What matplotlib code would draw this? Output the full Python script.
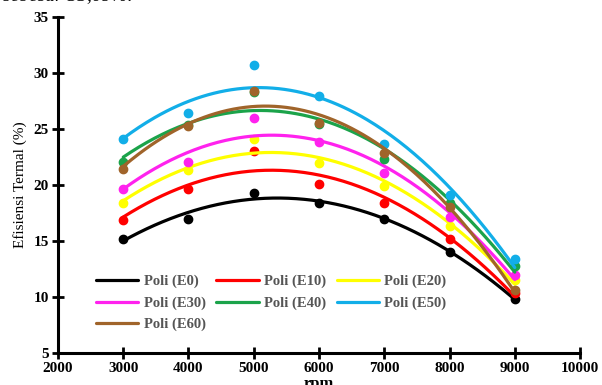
import numpy as np
import matplotlib
matplotlib.use("Agg")
import matplotlib.pyplot as plt

rpm = [3000, 4000, 5000, 6000, 7000, 8000, 9000]
e0 = [15.2, 17.0, 19.3, 18.4, 17.0, 14.05, 9.8]
e10 = [16.9, 19.6, 23.05, 20.05, 18.4, 15.15, 10.4]
e20 = [18.35, 21.35, 24.1, 22.0, 19.9, 16.35, 11.5]
e30 = [19.65, 22.05, 26.0, 23.8, 21.05, 17.15, 12.0]
e40 = [22.05, 25.4, 28.3, 25.45, 22.3, 18.4, 12.75]
e50 = [24.1, 26.4, 30.75, 27.95, 23.7, 19.15, 13.35]
e60 = [21.45, 25.25, 28.35, 25.5, 22.9, 18.05, 10.6]

labels = ["Poli (E0)", "Poli (E10)", "Poli (E20)", "Poli (E30)",
          "Poli (E40)", "Poli (E50)", "Poli (E60)"]
colors = ["#000000", "#ff0000", "#ffff00", "#ff22ee",
          "#1ba34a", "#12aee8", "#a0642a"]
series = [e0, e10, e20, e30, e40, e50, e60]

fig = plt.figure(figsize=(6.02, 3.85), dpi=100)
ax = fig.add_axes([0.0963, 0.0831, 0.8672, 0.8727])

x = np.array(rpm, dtype=float)
xs = np.linspace(3000, 9000, 200)
handles = []
for vals, col, lab in zip(series, colors, labels):
    y = np.array(vals)
    coef = np.polyfit(x, y, 2)
    h, = ax.plot(xs, np.polyval(coef, xs), color=col, linewidth=2.3, label=lab,
                 solid_capstyle="round")
    handles.append(h)
    ax.plot(x, y, "o", color=col, markersize=6, clip_on=False)

ax.set_xlim(2000, 10000)
ax.set_ylim(5, 35)
ax.set_xticks(range(2000, 10001, 1000))
ax.set_yticks(range(5, 36, 5))

for s in ["top", "right"]:
    ax.spines[s].set_visible(False)
for s in ["left", "bottom"]:
    ax.spines[s].set_linewidth(2.2)
ax.tick_params(direction="inout", length=9, width=2, pad=2)

for lbl in ax.get_xticklabels() + ax.get_yticklabels():
    lbl.set_fontfamily("Liberation Serif")
    lbl.set_fontweight("bold")
    lbl.set_fontsize(11)

ax.set_ylabel("Efisiensi Termal (%)", family="Liberation Serif", fontsize=11,
              labelpad=5)
ax.set_xlabel("rpm", family="Liberation Serif", fontweight="bold", fontsize=12,
              labelpad=1)

# legende remplie ligne par ligne (matplotlib remplit par colonne)
ordre = [0, 3, 6, 1, 4, 2, 5]
leg = ax.legend([handles[i] for i in ordre], [labels[i] for i in ordre],
                loc="lower left", bbox_to_anchor=(0.048, 0.025), ncol=3,
                frameon=False, handlelength=2.9, handletextpad=0.35,
                columnspacing=0.75, labelspacing=0.55,
                prop={"family": "Liberation Serif", "weight": "bold", "size": 10.5})
for t in leg.get_texts():
    t.set_color("#555555")

fig.text(0.005, 1.012, "sebesar 33,09%.", family="Liberation Serif",
         style="italic", fontsize=14, va="center", ha="left")

fig.savefig("out.png", dpi=100)
